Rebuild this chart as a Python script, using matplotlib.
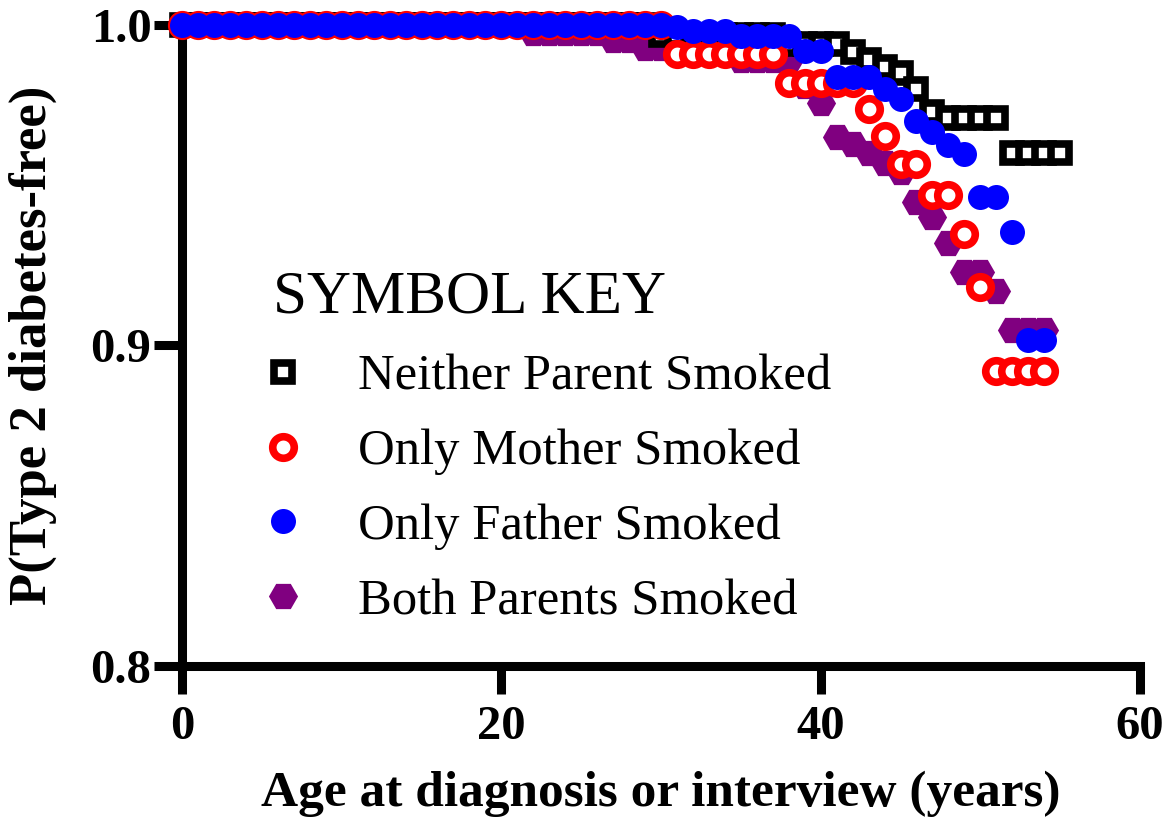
import matplotlib
matplotlib.use('Agg')
import matplotlib.pyplot as plt
import numpy as np

# survival estimates, one value per year of age
ages_neither = np.arange(0, 56)
p_neither = [1.0, 1.0, 1.0, 1.0, 1.0, 1.0, 1.0, 1.0, 1.0, 1.0,
             1.0, 1.0, 1.0, 1.0, 1.0, 1.0, 1.0, 1.0, 1.0, 1.0,
             1.0, 1.0, 1.0, 1.0, 1.0, 1.0, 1.0, 1.0, 1.0, 1.0,
             0.997, 0.997, 0.997, 0.997, 0.997, 0.997, 0.997, 0.997,
             0.994, 0.994, 0.994, 0.994, 0.9917, 0.989, 0.987, 0.985,
             0.980, 0.973, 0.971, 0.971, 0.971, 0.971,
             0.960, 0.960, 0.960, 0.960]

ages_mother = np.arange(0, 55)
p_mother = [1.0, 1.0, 1.0, 1.0, 1.0, 1.0, 1.0, 1.0, 1.0, 1.0,
            1.0, 1.0, 1.0, 1.0, 1.0, 1.0, 1.0, 1.0, 1.0, 1.0,
            1.0, 1.0, 1.0, 1.0, 1.0, 1.0, 1.0, 1.0, 1.0, 1.0, 1.0,
            0.991, 0.991, 0.991, 0.991, 0.991, 0.991, 0.991,
            0.982, 0.982, 0.982, 0.982, 0.982, 0.9737, 0.9653,
            0.9566, 0.9566, 0.9469, 0.9469, 0.9347, 0.9184,
            0.892, 0.892, 0.892, 0.892]

ages_father = np.arange(0, 55)
p_father = [1.0, 1.0, 1.0, 1.0, 1.0, 1.0, 1.0, 1.0, 1.0, 1.0,
            1.0, 1.0, 1.0, 1.0, 1.0, 1.0, 1.0, 1.0, 1.0, 1.0,
            1.0, 1.0, 1.0, 1.0, 1.0, 1.0, 1.0, 1.0, 1.0, 1.0, 1.0,
            0.9994, 0.998, 0.998, 0.998, 0.9966, 0.9966, 0.9966, 0.9966,
            0.9918, 0.9918, 0.9838, 0.9838, 0.9838, 0.980, 0.977,
            0.970, 0.9667, 0.9625, 0.9597, 0.9463, 0.9463, 0.9354,
            0.9016, 0.9016]

ages_both = np.arange(0, 55)
p_both = [1.0, 1.0, 1.0, 1.0, 1.0, 1.0, 1.0, 1.0, 1.0, 1.0,
          1.0, 1.0, 1.0, 1.0, 1.0, 1.0, 1.0, 1.0, 1.0, 1.0,
          1.0, 1.0, 0.9975, 0.9975, 0.9975, 0.9975, 0.9975,
          0.9953, 0.9953, 0.9928, 0.9928, 0.9928, 0.9928, 0.9928, 0.9928,
          0.989, 0.989, 0.989, 0.989, 0.981, 0.9756, 0.965, 0.963,
          0.960, 0.957, 0.954, 0.9447, 0.940, 0.932, 0.9228, 0.9228,
          0.917, 0.9047, 0.9047, 0.9047]

labels = ["Neither Parent Smoked", "Only Mother Smoked",
          "Only Father Smoked", "Both Parents Smoked"]
x_ticks = [0, 20, 40, 60]
y_ticks = [0.8, 0.9, 1.0]

plt.rcParams['font.family'] = ['Liberation Serif', 'DejaVu Serif']

fig = plt.figure(figsize=(11.72, 8.23), dpi=100)
ax = fig.add_axes([0.1553, 0.1908, 0.9727 - 0.1553, 0.9696 - 0.1908])

# bottom to top: purple, black, red, blue
h_both, = ax.plot(ages_both, p_both, linestyle='none', marker='H', ms=21,
                  color='#800080', mew=0, clip_on=False, zorder=3)
h_neither, = ax.plot(ages_neither, p_neither, linestyle='none', marker='s',
                     ms=13, mfc='white', mec='black', mew=5.5,
                     clip_on=False, zorder=4)
h_mother, = ax.plot(ages_mother, p_mother, linestyle='none', marker='o',
                    ms=15.5, mfc='white', mec='#ff0000', mew=5.5,
                    clip_on=False, zorder=5)
h_father, = ax.plot(ages_father, p_father, linestyle='none', marker='o',
                    ms=18, color='#0000ff', mew=0, clip_on=False, zorder=6)

ax.set_xlim(0, 60)
ax.set_ylim(0.8, 1.0)
ax.set_xticks(x_ticks)
ax.set_yticks(y_ticks)
ax.set_yticklabels(['0.8', '0.9', '1.0'])

for side in ['top', 'right']:
    ax.spines[side].set_visible(False)
for side in ['left', 'bottom']:
    ax.spines[side].set_linewidth(6.5)
    ax.spines[side].set_capstyle('projecting')

ax.tick_params(axis='both', direction='out', length=20, width=6.5,
               labelsize=35)
ax.tick_params(axis='x', pad=8)
ax.tick_params(axis='y', pad=2)
for lab in ax.get_xticklabels() + ax.get_yticklabels():
    lab.set_fontweight('bold')

ax.set_xlabel('Age at diagnosis or interview (years)', fontsize=37,
              fontweight='bold', labelpad=16)
ax.set_ylabel('P(Type 2 diabetes-free)', fontsize=38, fontweight='bold',
              labelpad=24)

leg = ax.legend([h_neither, h_mother, h_father, h_both], labels,
                title='SYMBOL KEY', title_fontsize=44, fontsize=36.5,
                frameon=False, loc='upper left', numpoints=1,
                bbox_to_anchor=(273 / 1172, 1 - 270 / 823),
                bbox_transform=fig.transFigure, borderpad=0,
                borderaxespad=0, handlelength=0.4, handletextpad=1.28,
                labelspacing=0.56, alignment='left')

fig.savefig('out.png', dpi=100)
